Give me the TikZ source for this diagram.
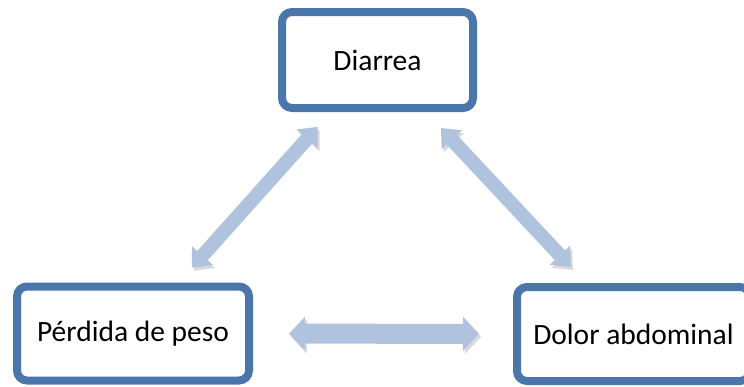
\documentclass[tikz,border=0pt]{standalone}
\usepackage{fontspec}
\setmainfont{Carlito}
\usetikzlibrary{arrows.meta,shadows}
\definecolor{boxblue}{RGB}{74,118,172}
\definecolor{arrowblue}{RGB}{176,195,222}
\tikzset{
  symptom/.style={draw=boxblue, line width=8pt, rounded corners=10pt, fill=white,
    minimum height=94pt, font=\fontsize{29.5}{35}\selectfont,
    drop shadow={shadow xshift=2pt, shadow yshift=-3pt, opacity=.3}},
  link/.style={arrowblue, line width=14pt,
    {Triangle[width=28pt,length=16pt,line width=0pt]}-{Triangle[width=28pt,length=16pt,line width=0pt]},
    preaction={draw=black, opacity=.15, transform canvas={xshift=2pt,yshift=-3pt}}},
}
\begin{document}
\begin{tikzpicture}[x=1pt, y=-1pt]
    \useasboundingbox (0,0) rectangle (744,386);

    % symptoms
    \node (diarrea) [symptom, minimum width=191pt, minimum height=96pt] at (377.5,60) {Diarrea};
    \node (perdida) [symptom, minimum width=232pt] at (133,333.5) {Pérdida de peso};
    \node (dolor) [symptom, minimum width=233pt] at (633.5,334) {Dolor abdominal};

    % links
    \draw [link, shorten <=20pt, shorten >=20pt] (diarrea) -- (perdida);
    \draw [link, shorten <=22pt, shorten >=22pt] (diarrea) -- (dolor);
    \draw [link, line width=20pt, shorten <=36pt, shorten >=34pt,
      {Triangle[width=34pt,length=16pt,line width=0pt]}-{Triangle[width=34pt,length=16pt,line width=0pt]}] (perdida) -- (dolor);
\end{tikzpicture}
\end{document}
